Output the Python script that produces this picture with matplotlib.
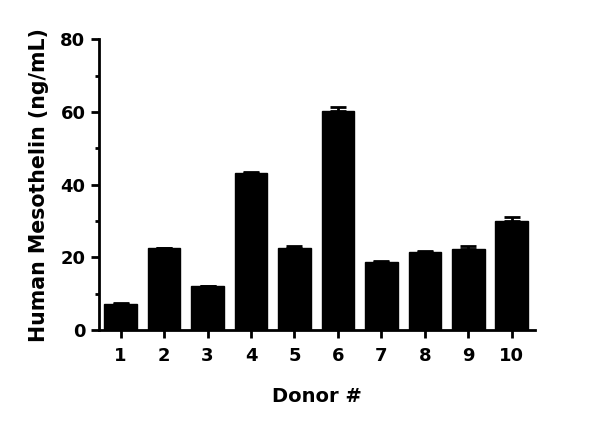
import matplotlib
matplotlib.use("Agg")
import matplotlib.pyplot as plt
from matplotlib.ticker import MultipleLocator

donors = ["1", "2", "3", "4", "5", "6", "7", "8", "9", "10"]
values = [7.2, 22.5, 12.0, 43.3, 22.6, 60.4, 18.8, 21.6, 22.2, 30.1]
errors = [0.2, 0.2, 0.2, 0.2, 0.5, 0.9, 0.2, 0.2, 0.9, 1.0]
y_ticks = [0, 20, 40, 60, 80]

plt.rcParams['font.family'] = ['DejaVu Sans']
fig = plt.figure(figsize=(6, 4.29), dpi=100)
ax = fig.add_axes([0.1655, 0.2308, 0.7265, 0.6776])

x = list(range(1, len(donors) + 1))
ax.bar(x, values, width=0.75, color='black', edgecolor='black')
ax.errorbar(x, values, yerr=[[0]*len(errors), errors], fmt='none', ecolor='black',
            elinewidth=2, capsize=6, capthick=2)

ax.set_xlim(0.51, 10.54)
ax.set_ylim(0, 80)
ax.set_xticks(x)
ax.set_xticklabels(donors)
ax.set_yticks(y_ticks)
ax.yaxis.set_minor_locator(MultipleLocator(10))

for s in ['top', 'right']:
    ax.spines[s].set_visible(False)
for s in ['left', 'bottom']:
    ax.spines[s].set_linewidth(2)

ax.tick_params(axis='both', which='major', width=2, length=6, labelsize=13, pad=4)
ax.tick_params(axis='x', which='major', pad=6)
ax.tick_params(axis='y', which='minor', width=2, length=3)
for lab in ax.get_xticklabels() + ax.get_yticklabels():
    lab.set_fontweight('bold')

ax.set_xlabel("Donor #", fontsize=14, fontweight='bold', labelpad=16)
ax.set_ylabel("Human Mesothelin (ng/mL)", fontsize=14.8, fontweight='bold', labelpad=8)

fig.savefig("out.png", dpi=100)
